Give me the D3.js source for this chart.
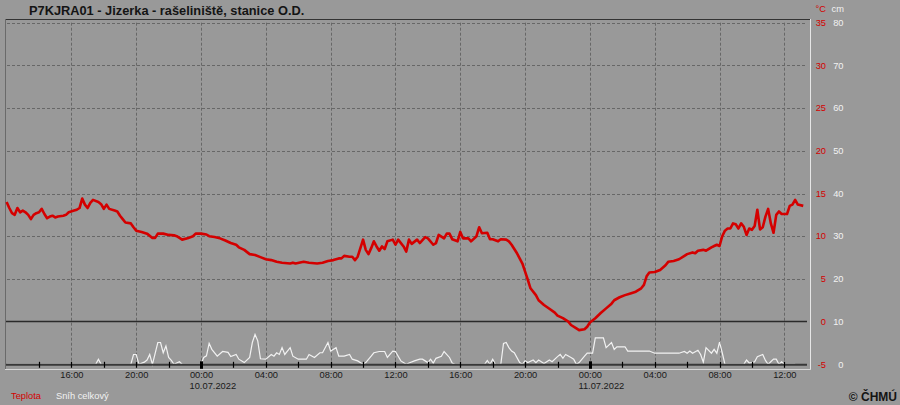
<!DOCTYPE html>
<html>
<head>
<meta charset="utf-8">
<script src="https://cdnjs.cloudflare.com/ajax/libs/d3/7.8.5/d3.min.js"></script>
<style>
    body { margin: 0; background: #999999; }
    svg { display: block; font-family: "Liberation Sans", Arial, sans-serif; }
</style>
</head>
<body>
<svg id="chart" width="900" height="405"></svg>
<script>
// station + time window
var title = "P7KJRA01 - Jizerka - rašeliniště, stanice O.D.";
var startTime = "2022-07-09T12:00";
var endTime = "2022-07-11T13:35";

// temperature (°C), minutes after startTime
var tempMinutes = [0, 10, 20, 30, 40, 50, 60, 70, 80, 90,
    100, 110, 120, 130, 140, 150, 160, 170, 180, 190,
    210, 220, 230, 250, 260, 270, 280, 290, 300, 310,
    320, 340, 350, 360, 370, 380, 400, 410, 420, 430,
    440, 460, 470, 480, 500, 520, 540, 550, 560, 580,
    600, 620, 630, 650, 670, 690, 700, 720, 740, 750,
    770, 790, 810, 830, 850, 860, 880, 900, 920, 940,
    960, 980, 1000, 1020, 1050, 1060, 1070, 1100, 1120, 1150,
    1170, 1190, 1210, 1230, 1240, 1250, 1270, 1280, 1290, 1300,
    1320, 1330, 1340, 1350, 1360, 1370, 1380, 1390, 1400, 1410,
    1430, 1440, 1450, 1470,
    1480, 1490, 1500, 1520, 1530, 1550, 1560, 1580, 1590, 1600,
    1620, 1630, 1640, 1650, 1670, 1680, 1690, 1710, 1720, 1740,
    1750, 1760, 1780, 1790, 1800, 1820, 1830, 1850, 1860, 1870,
    1890, 1910, 1920, 1930, 1940, 1960, 1970, 1990, 2010, 2030,
    2040, 2060, 2080, 2090, 2110, 2120, 2140, 2150, 2160, 2180,
    2200, 2220, 2240, 2250, 2270, 2290, 2310, 2330, 2350, 2360,
    2370, 2380, 2400, 2420, 2440, 2450, 2470, 2490, 2510, 2520,
    2540, 2550, 2560, 2580, 2590, 2610, 2620, 2630, 2640, 2650,
    2660, 2670, 2680, 2690, 2700, 2710, 2720, 2730, 2740, 2750,
    2760, 2770, 2780, 2790, 2800, 2810, 2820, 2830, 2840, 2850,
    2860, 2870, 2890, 2900, 2910, 2920, 2930, 2950];
var tempValues = [14.0, 13.3, 12.7, 12.5, 13.3, 12.8, 13.0, 12.8, 12.5, 12.0,
    12.5, 12.7, 12.8, 13.2, 12.6, 12.1, 12.3, 12.4, 12.2, 12.3,
    12.4, 12.5, 12.8, 13.0, 13.1, 13.3, 14.4, 13.7, 13.3, 13.9,
    14.25, 14.0, 13.75, 13.2, 13.7, 13.2, 13.0, 12.9, 12.4, 12.0,
    11.6, 11.5, 11.05, 10.65, 10.5, 10.3, 9.8, 9.8, 10.3, 10.3,
    10.15, 10.1, 10.0, 9.6, 9.75, 10.0, 10.3, 10.3, 10.2, 10.0,
    9.9, 9.75, 9.5, 9.2, 9.0, 8.7, 8.4, 7.9, 7.8, 7.55,
    7.3, 7.2, 7.0, 6.9, 6.8, 6.9, 6.8, 7.0, 6.9, 6.8,
    6.9, 7.1, 7.2, 7.4, 7.4, 7.7, 7.6, 7.6, 7.2, 7.6,
    9.6, 8.4, 7.9, 8.6, 9.4, 8.8, 8.3, 8.8, 8.5, 9.4,
    9.6, 9.0, 9.6, 8.8,
    8.2, 9.6, 9.1, 9.6, 9.2, 9.9, 9.75, 9.0, 9.2, 10.15,
    9.75, 10.3, 10.3, 9.65, 9.4, 10.5, 9.75, 9.75, 9.4, 10.0,
    11.05, 10.35, 10.4, 9.65, 9.65, 9.4, 9.65, 9.6, 9.4, 9.0,
    8.0, 6.8, 5.85, 4.9, 3.9, 3.1, 2.5, 1.95, 1.5, 1.05,
    0.7, 0.4, 0.0, -0.4, -0.8, -1.0, -0.9, -0.6, -0.1, 0.4,
    1.0, 1.55, 2.1, 2.5, 2.85, 3.1, 3.3, 3.5, 3.9, 4.3,
    5.3, 5.75, 5.8, 6.05, 6.6, 7.0, 7.1, 7.3, 7.7, 7.9,
    8.1, 8.0, 8.3, 8.4, 8.3, 8.7, 8.85, 9.0, 8.85, 10.0,
    10.65, 10.9, 10.9, 11.5, 11.4, 10.9, 11.5, 11.1, 10.15, 10.9,
    10.75, 11.2, 13.1, 10.8, 11.05, 12.3, 13.2, 11.5, 10.4, 12.5,
    12.9, 12.6, 12.6, 13.55, 13.7, 14.25, 13.7, 13.55];

// total snow (cm), minutes after startTime
var snowMinutes = [0, 330, 340, 350, 460, 470, 480, 490, 510, 520,
    530, 540, 560, 570, 580, 590, 600, 610, 620, 640,
    650, 720, 730, 740, 750, 760, 780, 800, 820, 830,
    850, 860, 880, 900, 910, 920, 930, 940, 960, 980,
    990, 1000, 1010, 1020, 1030, 1050, 1060, 1080, 1110, 1120,
    1140, 1160, 1170, 1190, 1200, 1220, 1230, 1250, 1270, 1280,
    1300, 1320, 1330, 1350, 1360, 1380, 1400, 1410, 1430, 1440,
    1450, 1460, 1480, 1490, 1510, 1530, 1540, 1560, 1570, 1580,
    1590, 1610, 1620, 1640, 1650, 1660, 1770, 1780, 1790, 1800,
    1810, 1830, 1840, 1850, 1860, 1870, 1880, 1900, 1910, 1920,
    1930, 1950, 1960, 1970, 1990, 2010, 2020, 2040, 2050, 2060,
    2070, 2090, 2100, 2110, 2120, 2140, 2150, 2160, 2170, 2180,
    2210, 2220, 2240, 2250, 2260, 2290, 2300, 2380, 2400, 2490,
    2510, 2520, 2530, 2540, 2560, 2570, 2580, 2590, 2610, 2620,
    2630, 2640, 2650, 2660, 2730, 2740, 2750, 2770, 2780, 2800,
    2810, 2820, 2840, 2850, 2860, 2870, 2880, 2920];
var snowValues = [0, 0, 1.2, 0, 0, 2.3, 2.3, 0, 0.5, 1.0,
    2.3, 0, 5.1, 5.1, 2.7, 4.3, 1.6, 0.9, 0, 0.6,
    0, 0, 1.6, 2.0, 4.9, 3.5, 1.9, 3.0, 2.8, 1.8,
    2.3, 1.2, 0.4, 1.6, 5.1, 7.0, 5.5, 1.3, 1.2, 2.3,
    1.9, 2.7, 2.3, 3.9, 2.3, 3.9, 1.9, 1.2, 1.2, 2.3,
    1.6, 2.7, 2.7, 5.1, 3.1, 3.9, 1.9, 1.9, 2.3, 1.2,
    0.8, 0, 0.4, 1.9, 2.7, 3.0, 3.0, 1.6, 3.1, 3.0,
    1.9, 0.8, 0, 0.3, 0.8, 1.2, 1.2, 0.4, 1.2, 0.3,
    1.4, 1.9, 3.0, 1.6, 0.3, 0, 0, 0.9, 0, 1.2,
    0, 0, 4.9, 5.1, 3.9, 3.1, 2.7, 0.4, 0, 0.8,
    0.4, 1.0, 0.4, 1.0, 0.2, 1.0, 0.6, 1.8, 2.3, 1.4,
    2.3, 1.6, 1.2, 0, 0.4, 1.9, 2.6, 2.6, 2.6, 6.2,
    6.2, 3.9, 5.1, 3.5, 4.1, 4.1, 3.1, 3.1, 2.6, 2.6,
    3.0, 2.6, 3.1, 2.6, 3.3, 2.3, 0.5, 3.9, 2.6, 3.5,
    2.6, 5.2, 2.7, 0, 0, 1.0, 0.3, 0.6, 1.8, 2.3,
    0.9, 0, 1.2, 1.2, 0, 0.6, 0, 0];

// right axis ticks
var tempTicks = [-5, 0, 5, 10, 15, 20, 25, 30, 35];
var snowTicks = [0, 10, 20, 30, 40, 50, 60, 70, 80];
var legendNames = ["Teplota", "Sníh celkový"];

var red = "#d40000",
    white = "#f2f2f2",
    grid = "#676767";

var svg = d3.select("#chart"),
    plotLeft = 6.6,
    plotRight = 810,
    plotTop = 22.7,
    plotBottom = 364.3;

var parse = d3.timeParse("%Y-%m-%dT%H:%M"),
    t0 = parse(startTime),
    t1 = parse(endTime);

var x = d3.scaleTime().domain([t0, t1]).range([plotLeft, plotRight]);
var yT = d3.scaleLinear().domain([-5, 35]).range([plotBottom, plotTop]);
var yS = d3.scaleLinear().domain([0, 80]).range([plotBottom, plotTop]);

var temps = tempMinutes.map(function (m, i) {
    return {t: d3.timeMinute.offset(t0, m), v: tempValues[i]};
});
var snow = snowMinutes.map(function (m, i) {
    return {t: d3.timeMinute.offset(t0, m), v: snowValues[i]};
});

// title
svg.append("text")
    .attr("x", 29).attr("y", 15)
    .style("font-weight", "bold").style("font-size", "12.8px")
    .attr("fill", "#141414")
    .text(title);

// frame, sunken look
svg.append("line").attr("x1", 5).attr("x2", 811).attr("y1", 19.5).attr("y2", 19.5).attr("stroke", "#333");
svg.append("line").attr("x1", 5.5).attr("x2", 5.5).attr("y1", 19).attr("y2", 370).attr("stroke", "#6a6a6a");
svg.append("line").attr("x1", 810.5).attr("x2", 810.5).attr("y1", 19).attr("y2", 370).attr("stroke", "#e6e6e6");
svg.append("line").attr("x1", 5).attr("x2", 811).attr("y1", 369.5).attr("y2", 369.5).attr("stroke", "#d6d6d6");

// horizontal dashed grid
svg.append("g").selectAll("line")
    .data(tempTicks.filter(function (d) { return d > 0; }))
    .enter().append("line")
    .attr("x1", 7).attr("x2", 806)
    .attr("y1", function (d) { return Math.round(yT(d)) + 0.5; })
    .attr("y2", function (d) { return Math.round(yT(d)) + 0.5; })
    .attr("stroke", grid).attr("stroke-dasharray", "3,2");

// vertical dashed grid every 4 hours
var fourHours = d3.timeHour.every(4).range(d3.timeMinute.offset(t0, 1), t1);
svg.append("g").selectAll("line")
    .data(fourHours)
    .enter().append("line")
    .attr("x1", function (d) { return Math.round(x(d)) + 0.5; })
    .attr("x2", function (d) { return Math.round(x(d)) + 0.5; })
    .attr("y1", plotTop).attr("y2", plotBottom)
    .attr("stroke", grid).attr("stroke-dasharray", "3,2");

// zero line
svg.append("line")
    .attr("x1", 6).attr("x2", 807)
    .attr("y1", yT(0)).attr("y2", yT(0))
    .attr("stroke", "#2a2a2a").attr("stroke-width", 1.5);

// snow
var snowLine = d3.line()
    .x(function (d) { return x(d.t); })
    .y(function (d) { return yS(d.v); });
svg.append("path")
    .datum(snow)
    .attr("d", snowLine)
    .attr("fill", "none")
    .attr("stroke", white)
    .attr("stroke-width", 1.2);

// bottom axis line and ticks
svg.append("line")
    .attr("x1", 6).attr("x2", 807)
    .attr("y1", plotBottom + 0.5).attr("y2", plotBottom + 0.5)
    .attr("stroke", "#383838").attr("stroke-width", 2);

var twoHours = d3.timeHour.every(2).range(d3.timeMinute.offset(t0, 1), t1);
svg.append("g").selectAll("line")
    .data(twoHours)
    .enter().append("line")
    .attr("x1", function (d) { return Math.round(x(d)) + 0.5; })
    .attr("x2", function (d) { return Math.round(x(d)) + 0.5; })
    .attr("y1", function (d) { return d.getHours() === 0 ? plotBottom - 3 : plotBottom - 2.5; })
    .attr("y2", function (d) { return d.getHours() === 0 ? plotBottom + 4.5 : plotBottom + 3.5; })
    .attr("stroke", "#000")
    .attr("stroke-width", function (d) { return d.getHours() === 0 ? 3 : 1.2; });

// temperature
var tempLine = d3.line()
    .x(function (d) { return x(d.t); })
    .y(function (d) { return yT(d.v); });
svg.append("path")
    .datum(temps)
    .attr("d", tempLine)
    .attr("fill", "none")
    .attr("stroke", red)
    .attr("stroke-width", 2.6)
    .attr("stroke-linejoin", "round");

// right axis labels
var axisText = svg.append("g").style("font-size", "9.3px");
axisText.selectAll(".tl")
    .data(tempTicks)
    .enter().append("text")
    .attr("x", 826).attr("y", function (d) { return yT(d); })
    .attr("dy", "0.35em").attr("text-anchor", "end")
    .attr("fill", red)
    .text(function (d) { return d; });
axisText.selectAll(".sl")
    .data(snowTicks)
    .enter().append("text")
    .attr("x", 843.5).attr("y", function (d) { return yS(d); })
    .attr("dy", "0.35em").attr("text-anchor", "end")
    .attr("fill", white)
    .text(function (d) { return d; });
axisText.append("text").attr("x", 826).attr("y", 12).attr("text-anchor", "end").attr("fill", red).text("°C");
axisText.append("text").attr("x", 844).attr("y", 12).attr("text-anchor", "end").attr("fill", white).text("cm");

// time labels
var fmtHour = d3.timeFormat("%H:%M"),
    fmtDay = d3.timeFormat("%d.%m.%Y");
axisText.selectAll(".hl")
    .data(fourHours)
    .enter().append("text")
    .attr("x", function (d) { return x(d) + 0.5; })
    .attr("y", 378)
    .attr("text-anchor", "middle")
    .attr("fill", "#1a1a1a")
    .text(fmtHour);
axisText.selectAll(".dl")
    .data(fourHours.filter(function (d) { return d.getHours() === 0; }))
    .enter().append("text")
    .attr("x", function (d) { return x(d) - 11.5; })
    .attr("y", 389)
    .attr("fill", "#1a1a1a")
    .text(fmtDay);

// legend
axisText.append("text").attr("x", 11).attr("y", 399).attr("fill", red).text(legendNames[0]);
axisText.append("text").attr("x", 56).attr("y", 399).attr("fill", white).text(legendNames[1]);

// copyright
svg.append("text")
    .attr("x", 897).attr("y", 400.5)
    .attr("text-anchor", "end")
    .style("font-weight", "bold").style("font-size", "12px")
    .attr("fill", "#141414")
    .text("© ČHMÚ");
</script>
</body>
</html>
